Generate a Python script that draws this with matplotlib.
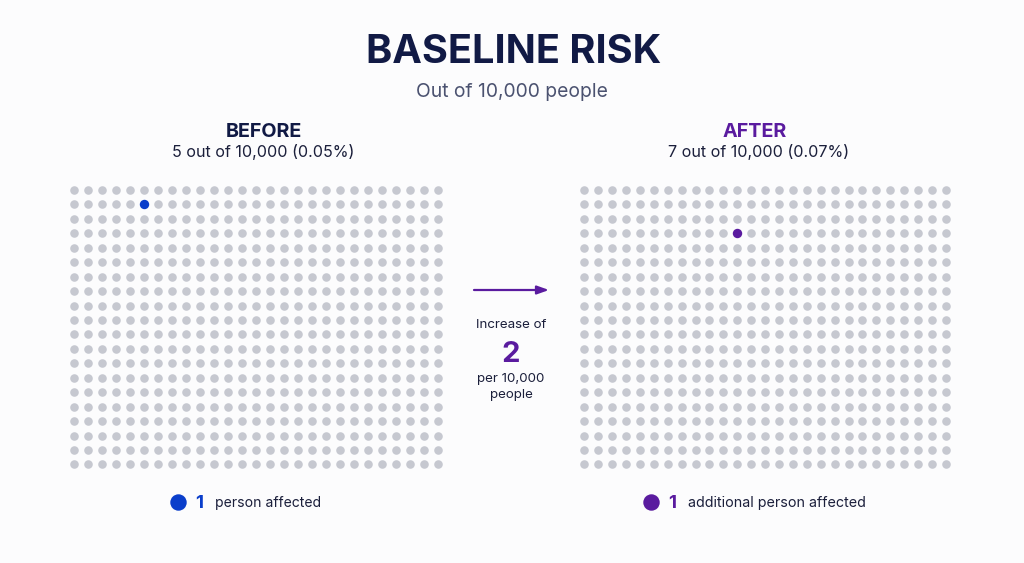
import numpy as np
import matplotlib
matplotlib.use("Agg")
import matplotlib.pyplot as plt

# ---- data ----
n_cols = 27
n_rows = 20
before_highlight = (5, 1)   # (col, row) of highlighted person, BEFORE grid
after_highlight = (11, 3)   # (col, row) of highlighted person, AFTER grid
title = "BASELINE RISK"
subtitle = "Out of 10,000 people"
before_label = "BEFORE"
before_text = "5 out of 10,000 (0.05%)"
after_label = "AFTER"
after_text = "7 out of 10,000 (0.07%)"
increase_value = "2"
legend_before = ("1", "person affected")
legend_after = ("1", "additional person affected")

# ---- style ----
BG = "#fcfcfd"
GREY = "#c6c8d0"
BLUE = "#0a3ecb"
PURPLE = "#5a1b9f"
NAVY = "#111a45"
SUB = "#4b5270"
BODY = "#1b1f3b"
FONT = ["Inter", "DejaVu Sans"]
plt.rcParams["font.family"] = FONT

W, H = 1024, 563
fig = plt.figure(figsize=(W / 100, H / 100), dpi=100, facecolor=BG)

def px_axes(left, top, width, height):
    return fig.add_axes([left / W, 1 - (top + height) / H, width / W, height / H])

def draw_grid(ax, hl, color):
    cols, rows = np.meshgrid(np.arange(n_cols), np.arange(n_rows))
    mask = ~((cols == hl[0]) & (rows == hl[1]))
    ax.scatter(cols[mask], rows[mask], s=38, color=GREY, linewidths=0)
    ax.scatter([hl[0]], [hl[1]], s=46, color=color, linewidths=0, zorder=3)
    ax.set_xlim(-0.5, n_cols - 0.5)
    ax.set_ylim(n_rows - 0.5, -0.5)
    ax.axis("off")

# grids
ax_l = px_axes(67.3, 182.8, 378, 288.8)
draw_grid(ax_l, before_highlight, BLUE)
ax_r = px_axes(577.4, 182.8, 375.4, 288.8)
draw_grid(ax_r, after_highlight, PURPLE)

# overlay in pixel coordinates
ov = fig.add_axes([0, 0, 1, 1], facecolor="none")
ov.set_xlim(0, W)
ov.set_ylim(H, 0)
ov.axis("off")

ov.text(514, 63, title, ha="center", va="baseline", fontsize=28.6,
        fontweight="bold", color=NAVY)
ov.text(512, 97, subtitle, ha="center", va="baseline", fontsize=13.9, color=SUB)

ov.text(264, 137, before_label, ha="center", va="baseline", fontsize=14.2,
        fontweight="bold", color=NAVY)
ov.text(263, 156.5, before_text, ha="center", va="baseline", fontsize=11.6, color=BODY)
ov.text(755, 137, after_label, ha="center", va="baseline", fontsize=14.2,
        fontweight="bold", color=PURPLE)
ov.text(759, 156.5, after_text, ha="center", va="baseline", fontsize=11.6, color=BODY)

# arrow + increase text
ov.annotate("", xy=(549, 290), xytext=(474, 290),
            arrowprops=dict(arrowstyle="-|>,head_length=0.7,head_width=0.25",
                            color=PURPLE, lw=1.6, shrinkA=0, shrinkB=0))
ov.text(511, 327.5, "Increase of", ha="center", va="baseline", fontsize=9.6, color=BODY)
ov.text(511, 361.5, increase_value, ha="center", va="baseline", fontsize=21,
        fontweight="bold", color=PURPLE)
ov.text(511, 382, "per 10,000", ha="center", va="baseline", fontsize=9.6, color=BODY)
ov.text(511, 398, "people", ha="center", va="baseline", fontsize=9.6, color=BODY)

# legends
ov.scatter([178], [502], s=140, color=BLUE, linewidths=0)
ov.text(195, 507.5, legend_before[0], ha="left", va="baseline", fontsize=13.5,
        fontweight="bold", color=BLUE)
ov.text(215, 507.5, legend_before[1], ha="left", va="baseline", fontsize=10.1, color=BODY)

ov.scatter([651], [502], s=140, color=PURPLE, linewidths=0)
ov.text(668, 507.5, legend_after[0], ha="left", va="baseline", fontsize=13.5,
        fontweight="bold", color=PURPLE)
ov.text(688, 507.5, legend_after[1], ha="left", va="baseline", fontsize=10.3, color=BODY)

fig.savefig("out.png", dpi=100, facecolor=BG)
